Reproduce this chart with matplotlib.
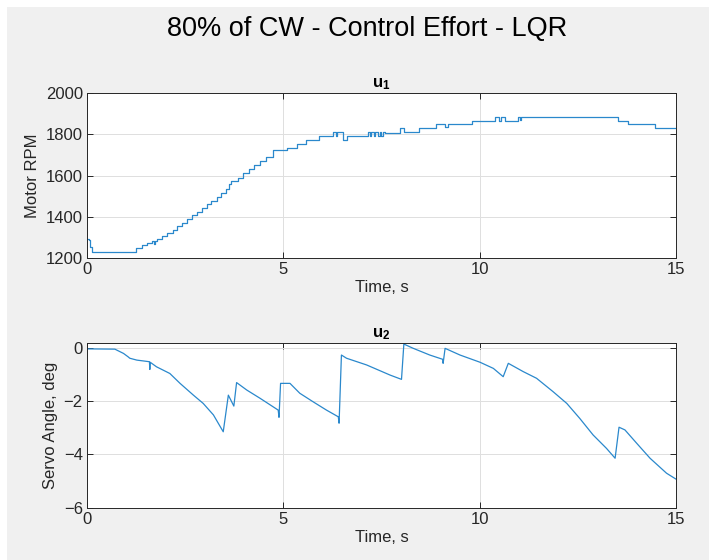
import matplotlib.pyplot as plt
from matplotlib.patches import Rectangle

plt.rcParams['font.family'] = ['Liberation Sans', 'DejaVu Sans']
plt.rcParams['mathtext.fontset'] = 'custom'
plt.rcParams['mathtext.rm'] = 'Liberation Sans'
plt.rcParams['mathtext.bf'] = 'Liberation Sans:bold'

# u1 - motor command (held between updates)
t_u1 = [0.0, 0.04, 0.08, 0.13, 1.26, 1.39, 1.52, 1.65, 1.70, 1.74, 1.78, 1.92,
        2.05, 2.18, 2.30, 2.42, 2.55, 2.68, 2.80, 2.92, 3.05, 3.17, 3.30, 3.42,
        3.54, 3.62, 3.68, 3.85, 3.98, 4.12, 4.25, 4.40, 4.55, 4.73, 5.10, 5.36,
        5.59, 5.92, 6.27, 6.33, 6.37, 6.53, 6.61, 7.16, 7.20, 7.24, 7.30, 7.34,
        7.40, 7.45, 7.50, 7.55, 7.59, 7.97, 8.07, 8.46, 8.89, 9.12, 9.20, 9.80,
        10.39, 10.50, 10.55, 10.64, 10.98, 11.02, 11.06, 13.53, 13.78, 14.46, 15.0]
rpm_u1 = [1290, 1285, 1255, 1227, 1250, 1262, 1273, 1280, 1270, 1280, 1292, 1305,
          1320, 1338, 1355, 1372, 1390, 1408, 1425, 1443, 1460, 1478, 1497, 1515,
          1535, 1560, 1575, 1590, 1610, 1630, 1650, 1668, 1690, 1722, 1735, 1751,
          1772, 1790, 1812, 1790, 1812, 1772, 1790, 1812, 1790, 1812, 1790, 1812,
          1790, 1812, 1790, 1812, 1805, 1830, 1810, 1832, 1850, 1835, 1850, 1866,
          1885, 1866, 1885, 1866, 1885, 1870, 1885, 1866, 1850, 1832, 1832]

# u2 - servo angle command
t_u2 = [0.0, 0.71, 0.93, 1.05, 1.09, 1.27, 1.59, 1.60, 1.61, 1.77, 2.11, 2.37,
        2.71, 2.96, 3.22, 3.47, 3.60, 3.74, 3.81, 4.07, 4.41, 4.87, 4.89, 4.93,
        5.17, 5.42, 5.76, 6.10, 6.40, 6.42, 6.48, 6.61, 7.12, 7.72, 8.01, 8.07,
        8.31, 8.73, 9.06, 9.07, 9.12, 9.50, 10.01, 10.35, 10.60, 10.73, 11.11,
        11.45, 11.87, 12.22, 12.55, 12.89, 13.23, 13.45, 13.55, 13.70, 14.00,
        14.34, 14.76, 15.0]
deg_u2 = [-0.05, -0.06, -0.22, -0.35, -0.40, -0.47, -0.53, -0.82, -0.55, -0.72,
          -0.97, -1.34, -1.78, -2.09, -2.52, -3.15, -1.78, -2.19, -1.31, -1.59,
          -1.90, -2.34, -2.61, -1.34, -1.34, -1.71, -2.03, -2.34, -2.59, -2.83,
          -0.28, -0.40, -0.65, -1.03, -1.19, 0.13, -0.03, -0.28, -0.44, -0.59,
          -0.03, -0.28, -0.55, -0.78, -1.09, -0.59, -0.90, -1.15, -1.65, -2.09,
          -2.65, -3.27, -3.77, -4.14, -2.98, -3.08, -3.58, -4.14, -4.70, -4.92]

line_col = '#2A88CC'
axis_col = '#262626'

fig = plt.figure(figsize=(7.09, 5.6), dpi=100, facecolor='white')
fig.patches.append(Rectangle((7 / 709, 0), 1, 1 - 7 / 560, transform=fig.transFigure,
                             facecolor='#F0F0F0', edgecolor='none', zorder=-10))

fig.text(0.518, 0.948, '80% of CW - Control Effort - LQR', ha='center', va='center',
         fontsize=19.5, color='black')

ax1 = fig.add_axes([0.1227, 0.5393, 0.8307, 0.2946])
ax2 = fig.add_axes([0.1227, 0.0929, 0.8307, 0.2946])

ax1.plot(t_u1, rpm_u1, color=line_col, lw=0.9, drawstyle='steps-post')
ax2.plot(t_u2, deg_u2, color=line_col, lw=0.9)

ax1.set_ylim(1200, 2000)
ax1.set_yticks([1200, 1400, 1600, 1800, 2000])
ax1.set_ylabel('Motor RPM', fontsize=12, color=axis_col)
ax1.set_title(r'$\mathbf{u_1}$', fontsize=12, pad=4)

ax2.set_ylim(-6, 0.17)
ax2.set_yticks([-6, -4, -2, 0])
ax2.set_ylabel('Servo Angle, deg', fontsize=12, color=axis_col)
ax2.set_title(r'$\mathbf{u_2}$', fontsize=12, pad=4)

for ax in (ax1, ax2):
    ax.set_facecolor('white')
    ax.set_xlim(0, 15)
    ax.set_xticks([0, 5, 10, 15])
    ax.set_xlabel('Time, s', fontsize=12, color=axis_col, labelpad=2)
    ax.grid(True, color='#DFDFDF', lw=0.7)
    ax.set_axisbelow(True)
    ax.tick_params(direction='in', top=True, right=True, length=4, width=0.7,
                   labelsize=12, colors=axis_col, pad=3)
    for s in ax.spines.values():
        s.set_color(axis_col)
        s.set_linewidth(0.7)

fig.savefig('out.png', dpi=100, facecolor=fig.get_facecolor())
